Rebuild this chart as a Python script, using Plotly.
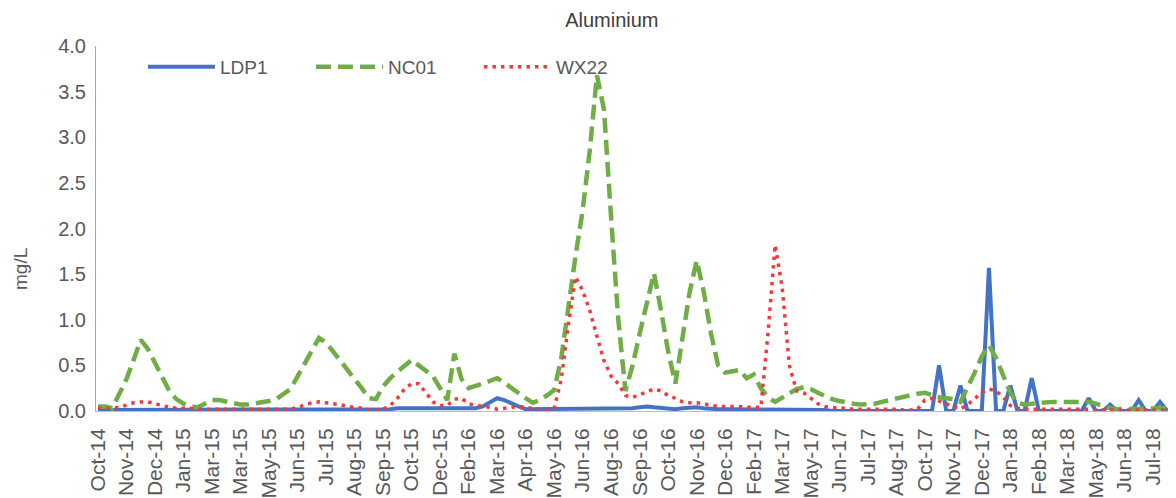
import plotly.graph_objects as go

# Tick labels (every 4th sample is labelled)
tick_labels = ["Oct-14","Nov-14","Dec-14","Jan-15","Mar-15","Mar-15","May-15","Jun-15",
               "Jul-15","Aug-15","Sep-15","Oct-15","Dec-15","Feb-16","Mar-16","Apr-16",
               "May-16","Jun-16","Aug-16","Sep-16","Oct-16","Nov-16","Dec-16","Feb-17",
               "Mar-17","May-17","Jun-17","Jul-17","Aug-17","Oct-17","Nov-17","Dec-17",
               "Jan-18","Feb-18","Mar-18","May-18","Jun-18","Jul-18"]
label_step = 4

ldp1 = [0.01,0.01,0.01,0.01,0.01,0.02,0.02,0.02,0.02,0.02,
        0.02,0.01,0.01,0.01,0.01,0.01,0.01,0.01,0.01,0.01,
        0.01,0.01,0.01,0.01,0.01,0.01,0.01,0.01,0.01,0.01,
        0.01,0.01,0.01,0.01,0.01,0.01,0.01,0.01,0.01,0.01,
        0.01,0.02,0.03,0.03,0.03,0.03,0.03,0.03,0.03,0.03,
        0.03,0.03,0.03,0.03,0.05,0.10,0.14,0.12,0.08,0.05,
        0.02,0.02,0.03,0.03,0.03,0.03,0.03,0.03,0.03,0.03,
        0.03,0.03,0.03,0.02,0.02,0.03,0.04,0.05,0.04,0.03,
        0.02,0.02,0.03,0.04,0.04,0.03,0.02,0.02,0.02,0.02,
        0.02,0.02,0.02,0.02,0.02,0.01,0.01,0.01,0.01,0.01,
        0.01,0.01,0.01,0.00,0.00,0.00,0.00,0.00,0.00,0.00,
        0.00,0.00,0.00,0.00,0.00,0.00,0.00,0.00,0.50,0.00,
        0.00,0.28,0.00,0.00,0.00,1.57,0.00,0.00,0.28,0.00,
        0.00,0.36,0.00,0.00,0.00,0.00,0.00,0.00,0.00,0.14,
        0.00,0.00,0.07,0.00,0.00,0.00,0.12,0.00,0.00,0.10,0.00]

nc01 = [0.05,0.05,0.03,0.18,0.35,0.56,0.78,0.68,0.52,0.38,
        0.22,0.13,0.08,0.05,0.04,0.08,0.12,0.12,0.10,0.08,
        0.07,0.07,0.08,0.09,0.11,0.13,0.18,0.24,0.38,0.52,
        0.68,0.80,0.75,0.65,0.55,0.47,0.36,0.25,0.14,0.13,
        0.27,0.36,0.43,0.50,0.56,0.50,0.44,0.38,0.25,0.12,
        0.63,0.35,0.25,0.27,0.30,0.33,0.36,0.31,0.25,0.19,
        0.14,0.09,0.12,0.17,0.23,0.58,1.15,1.70,2.20,2.86,
        3.68,3.30,2.10,1.00,0.22,0.50,0.85,1.20,1.51,1.10,
        0.65,0.30,0.80,1.30,1.65,1.30,0.85,0.50,0.42,0.43,
        0.45,0.36,0.40,0.25,0.15,0.10,0.15,0.20,0.24,0.26,
        0.24,0.20,0.16,0.13,0.11,0.09,0.08,0.07,0.07,0.08,
        0.10,0.12,0.14,0.15,0.17,0.19,0.20,0.17,0.15,0.14,
        0.13,0.10,0.25,0.42,0.60,0.72,0.58,0.40,0.20,0.09,
        0.07,0.08,0.09,0.09,0.10,0.10,0.10,0.10,0.10,0.10,
        0.08,0.05,0.03,0.02,0.02,0.02,0.02,0.02,0.03,0.03,0.03]

wx22 = [0.03,0.03,0.03,0.04,0.07,0.09,0.10,0.10,0.08,0.06,
        0.04,0.03,0.03,0.03,0.02,0.02,0.02,0.02,0.02,0.02,
        0.02,0.02,0.02,0.02,0.02,0.02,0.02,0.02,0.04,0.07,
        0.09,0.10,0.09,0.08,0.07,0.05,0.04,0.03,0.01,0.01,
        0.02,0.06,0.14,0.24,0.30,0.30,0.20,0.10,0.06,0.06,
        0.13,0.14,0.08,0.06,0.05,0.04,0.02,0.03,0.04,0.05,
        0.04,0.03,0.02,0.01,0.03,0.35,0.95,1.47,1.32,1.10,
        0.82,0.55,0.38,0.30,0.17,0.15,0.18,0.21,0.24,0.22,
        0.17,0.14,0.10,0.09,0.09,0.08,0.06,0.05,0.05,0.05,
        0.05,0.04,0.04,0.04,0.85,1.82,1.35,0.50,0.22,0.20,
        0.14,0.08,0.05,0.04,0.03,0.03,0.02,0.02,0.02,0.02,
        0.02,0.02,0.02,0.01,0.01,0.02,0.12,0.14,0.11,0.08,
        0.06,0.02,0.07,0.13,0.20,0.24,0.22,0.15,0.06,0.03,
        0.02,0.02,0.02,0.02,0.02,0.02,0.02,0.02,0.02,0.02,
        0.01,0.01,0.01,0.01,0.01,0.01,0.01,0.01,0.01,0.01,0.01]

samples = list(range(len(ldp1)))
tick_pos = samples[::label_step][:len(tick_labels)]

FONT = "Liberation Sans"
GREY = "#595959"

fig = go.Figure()
fig.add_trace(go.Scatter(x=samples, y=ldp1, name="LDP1", mode="lines",
                         line=dict(color="#4472C4", width=4)))
fig.add_trace(go.Scatter(x=samples, y=nc01, name="NC01", mode="lines",
                         line=dict(color="#70AD47", width=4.5, dash="15px,7px")))
fig.add_trace(go.Scatter(x=samples, y=wx22, name="WX22", mode="lines",
                         line=dict(color="#EE3B3B", width=3.5, dash="3.5px,5px")))

# page body has an 8px default margin, so the figure is 8px smaller each way
fig.update_layout(
    width=1168, height=490,
    margin=dict(l=88, r=6, t=38, b=87, autoexpand=False),
    paper_bgcolor="white", plot_bgcolor="white",
    font=dict(family=FONT, color=GREY, size=19),
    title=dict(text="Aluminium", x=0.517, xref="container", y=0.9755, yref="container",
               xanchor="center", yanchor="middle",
               font=dict(family=FONT, size=20, color="#404040")),
    showlegend=True,
    legend=dict(orientation="h", x=0.0437, xanchor="left", y=0.995, yanchor="top",
                bgcolor="rgba(0,0,0,0)", itemwidth=67, entrywidth=86,
                entrywidthmode="pixels", font=dict(size=19, color=GREY),
                tracegroupgap=0),
    xaxis=dict(range=[-0.28, 150.4], tickmode="array", tickvals=tick_pos,
               ticktext=tick_labels, tickangle=-90, ticks="", showgrid=False,
               zeroline=False, showline=True, linecolor="#BFBFBF", linewidth=1,
               tickfont=dict(size=21, color=GREY), ticklabelstandoff=8,
               automargin=False),
    yaxis=dict(range=[0, 4], dtick=0.5, tickformat=".1f", ticks="", showgrid=False,
               zeroline=False, showline=True, linecolor="#A6A6A6", linewidth=1,
               tickfont=dict(size=20, color=GREY), ticklabelstandoff=5,
               automargin=False),
    annotations=[dict(text="mg/L", xref="paper", yref="paper", x=-0.0708, y=0.389,
                      textangle=-90, showarrow=False, xanchor="center", yanchor="middle",
                      font=dict(family=FONT, size=19, color=GREY))],
)

fig.write_html("out.html")
